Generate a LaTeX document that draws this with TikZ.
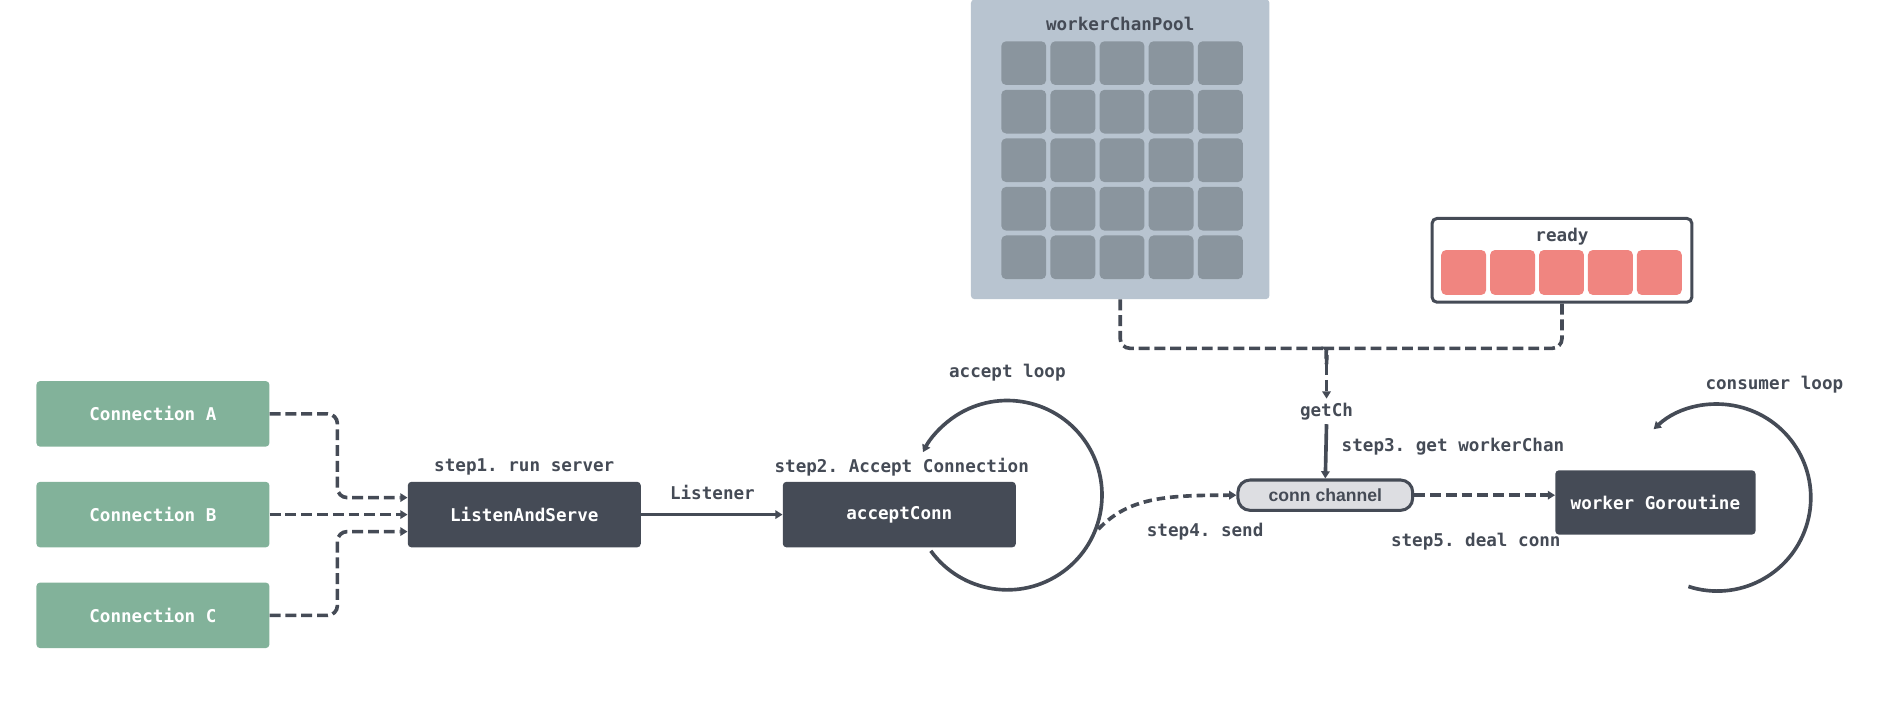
\documentclass[tikz,border=0pt]{standalone}
\usepackage{fontspec}
\setmainfont{Liberation Sans}
\setmonofont{DejaVu Sans Mono}
\usetikzlibrary{arrows.meta}
\definecolor{dk}{HTML}{454B56}
\definecolor{gr}{HTML}{82B29A}
\definecolor{pool}{HTML}{B8C4D0}
\definecolor{cell}{HTML}{8A959E}
\definecolor{rd}{HTML}{F08580}
\definecolor{chan}{HTML}{DDDEE2}
\begin{document}
\begin{tikzpicture}[x=1pt,y=-1pt,
  lbl/.style={font=\fontsize{14.5}{16}\selectfont\ttfamily\bfseries,text=dk},
  box/.style={rounded corners=3pt,minimum width=192pt,minimum height=54pt,font=\fontsize{14.5}{16}\selectfont\ttfamily\bfseries,text=white,inner sep=0},
  conn/.style={box,fill=gr},
  drk/.style={box,fill=dk},
  ln/.style={draw=dk,line width=3pt},
  dsh/.style={ln,dash pattern=on 9pt off 4pt,rounded corners=8pt},
  tip/.style={-{Triangle[length=6pt,width=7pt]}},
  gc/.style={fill=cell,rounded corners=4pt,minimum width=37pt,minimum height=36pt,inner sep=0},
  rc/.style={fill=rd,rounded corners=4pt,minimum width=37pt,minimum height=37pt,inner sep=0}]
\useasboundingbox (0,0) rectangle (1568,584);
\node[conn] (ca) at (126,341) {Connection A};
\node[conn] (cb) at (126,424) {Connection B};
\node[conn] (cc) at (126,507) {Connection C};
\node[drk] (las) at (432,424) {ListenAndServe};
\node[drk] (ac) at (741,424) {acceptConn};
\node[drk,minimum width=165pt,minimum height=53pt] (wg) at (1364,414) {worker Goroutine};
\node[draw=dk,line width=2.5pt,fill=chan,rounded corners=10pt,minimum width=144pt,minimum height=25pt,inner sep=0,font=\fontsize{14.5}{16}\selectfont\bfseries,text=dk] (ch) at (1092,408) {conn channel};
% pool
\node[fill=pool,rounded corners=3pt,minimum width=246pt,minimum height=247pt,inner sep=0] (pool) at (923,123) {};
\node[lbl] (pt) at (923,20) {workerChanPool};
\foreach \i in {0,...,4}{\foreach \j in {0,...,4}{
  \node[gc] (g\i\j) at (843.5+40.5*\i,52+40*\j) {};}}
% ready
\node[draw=dk,line width=2.5pt,fill=white,rounded corners=4pt,minimum width=214pt,minimum height=69pt,inner sep=0] (rdy) at (1287,214.5) {};
\node[lbl] (rt) at (1287,195) {ready};
\foreach \i in {0,...,4}{\node[rc] (r\i) at (1206+40.3*\i,224.5) {};}
% labels
\node[lbl] (l1) at (432,385) {step1. run server};
\node[lbl] (l2) at (743,385) {step2. Accept Connection};
\node[lbl] (l3) at (587,406) {Listener};
\node[lbl] (l4) at (830,307) {accept loop};
\node[lbl] (l5) at (1462,317) {consumer loop};
\node[lbl] (gch) at (1093,339) {getCh};
\node[lbl,anchor=west] (l6) at (1102,368) {step3. get workerChan};
\node[lbl] (l7) at (993,438) {step4. send};
\node[lbl] (l8) at (1216,446) {step5. deal conn};
% connectors
\draw[dsh,tip] (ca.east) -- (278,341) -- (278,410) -- (las.west|-0,410);
\draw[dsh,tip] (cb.east) -- (las.west);
\draw[dsh,tip] (cc.east) -- (278,507) -- (278,438) -- (las.west|-0,438);
\draw[ln,tip] (las.east) -- (ac.west);
\draw[dsh,tip] (ch.east) -- (wg.west|-ch.east);
\draw[ln,tip] (gch.south) -- (ch.north);
\coordinate (j) at (1093,300);
\draw[dsh] (pool.south) -- (923,287) -- (1086,287) to[out=0,in=90] (j);
\draw[dsh] (rdy.south) -- (1287,287) -- (1100,287) to[out=180,in=90] (j);
\draw[dsh,tip,rounded corners=0] (j) -- (gch.north);
\draw[ln,dash pattern=on 7pt off 4pt,tip] (905,436) .. controls (930,410) and (960,408) .. (ch.west);
% loops
\draw[ln,tip] (830,408) ++(216:78pt) arc[start angle=216,end angle=513,radius=78pt];
\draw[ln,tip] (1415,410) ++(252:77pt) arc[start angle=252,end angle=493,radius=77pt];
\end{tikzpicture}
\end{document}
